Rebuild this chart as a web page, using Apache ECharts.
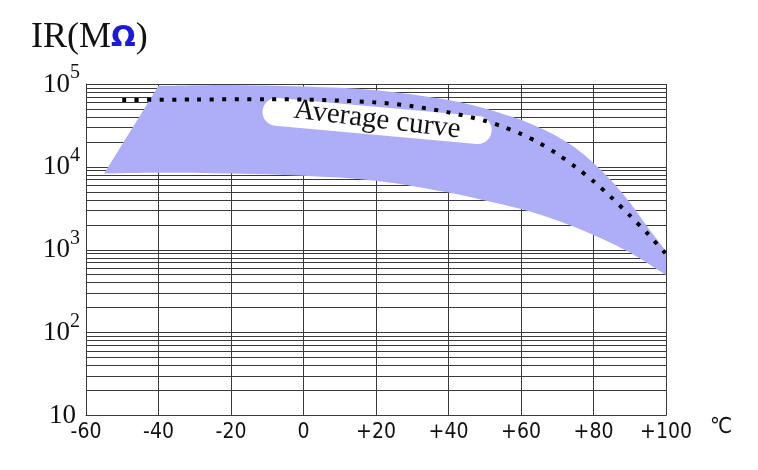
<!DOCTYPE html>
<html>
<head>
<meta charset="utf-8">
<script src="https://cdn.jsdelivr.net/npm/echarts@6/dist/echarts.min.js"></script>
<style>html,body{margin:0;padding:0;background:#fff}#chart{width:758px;height:470px}</style>
</head>
<body>
<div id="chart"></div>
<script>
// ---- data ----
const xTicks = [-60, -40, -20, 0, 20, 40, 60, 80, 100];
const xTickLabels = ['-60', '-40', '-20', '0', '+20', '+40', '+60', '+80', '+100'];
const yTicks = [10, 100, 1000, 10000, 100000];
const yTickExps = ['', '2', '3', '4', '5'];
const minorMultipliers = [2, 3, 4, 5, 6, 7, 8, 9];
// upper boundary of the IR band (temperature °C, MΩ)
const upperBand = [[-40, 95000], [-20, 97500], [0, 93000], [20, 84000], [40, 64000], [50, 50700],
  [55, 43600], [60, 37000], [65, 29900], [70, 23300], [75, 16900], [80, 11150], [85, 6760], [90, 3720],
  [95, 1860], [100, 968]];
// lower boundary of the IR band
const lowerBand = [[-55, 8300], [-40, 8500], [-20, 8300], [0, 7800], [20, 6800], [40, 4900], [50, 3930],
  [60, 3100], [70, 2260], [80, 1510], [90, 928], [100, 497]];
// average curve
const avgCurve = [[-50, 64000], [-30, 65000], [-10, 65500], [0, 65000], [10, 63000], [20, 60000], [30, 54000],
  [40, 45500], [50, 36000], [55, 30500], [60, 25000], [65, 19500], [70, 14300], [75, 10000], [80, 6700],
  [85, 4250], [90, 2600], [95, 1550], [100, 890]];
const labelText = 'Average curve';
const labelAnchor = [20.3, 35800];

// Catmull-Rom segments through pixel points -> SVG cubic commands
function crPath(pts) {
  let s = '';
  for (let i = 0; i < pts.length - 1; i++) {
    const p0 = pts[i - 1] || pts[i], p1 = pts[i], p2 = pts[i + 1], p3 = pts[i + 2] || pts[i + 1];
    const c1 = [p1[0] + (p2[0] - p0[0]) / 6, p1[1] + (p2[1] - p0[1]) / 6];
    const c2 = [p2[0] - (p3[0] - p1[0]) / 6, p2[1] - (p3[1] - p1[1]) / 6];
    s += ' C' + c1[0] + ',' + c1[1] + ' ' + c2[0] + ',' + c2[1] + ' ' + p2[0] + ',' + p2[1];
  }
  return s;
}

// ---- chart ----
const minorLines = [];
yTicks.slice(0, -1).forEach(d => minorMultipliers.forEach(m => minorLines.push({ yAxis: d * m })));

const gridColor = '#3a3a3a';
const chart = echarts.init(document.getElementById('chart'), null, { renderer: 'canvas' });
chart.setOption({
  animation: false,
  backgroundColor: '#fff',
  title: {
    text: '{a|IR(M}{b|Ω}{a|)}',
    left: 26, top: 14,
    textStyle: {
      fontWeight: 'normal',
      rich: {
        a: { fontFamily: 'Liberation Serif', fontWeight: 'normal', fontSize: 36, color: '#111', lineHeight: 38 },
        b: { fontFamily: 'DejaVu Sans', fontWeight: 'bold', fontSize: 29, color: '#1a1ad8', lineHeight: 38 }
      }
    }
  },
  grid: { left: 86, right: 92, top: 84, bottom: 54.5, containLabel: false },
  xAxis: {
    type: 'value', min: -60, max: 100, interval: 20,
    axisLine: { show: true, onZero: false, lineStyle: { color: gridColor, width: 1 } },
    axisTick: { show: false },
    splitLine: { show: true, lineStyle: { color: gridColor, width: 1 } },
    axisLabel: {
      margin: 7,
      formatter: v => xTickLabels[xTicks.indexOf(v)],
      fontFamily: "'Liberation Sans Narrow', 'DejaVu Sans Condensed', sans-serif",
      fontSize: 21, color: '#111'
    },
    name: '℃', nameLocation: 'end', nameGap: 44,
    nameTextStyle: { fontFamily: 'DejaVu Sans Condensed', fontSize: 22, color: '#111', verticalAlign: 'top', padding: [1, 0, 0, 0] }
  },
  yAxis: {
    type: 'log', logBase: 10, min: 10, max: 100000,
    axisLine: { show: true, onZero: false, lineStyle: { color: gridColor, width: 1 } },
    axisTick: { show: false },
    splitLine: { show: true, lineStyle: { color: gridColor, width: 1 } },
    axisLabel: {
      align: 'left', margin: 43,
      formatter: v => {
        const i = yTicks.indexOf(Math.round(v));
        if (i < 0) return '';
        return yTickExps[i] ? '{b|10}{s|' + yTickExps[i] + '}' : '{c|10}';
      },
      rich: {
        b: { fontFamily: 'Liberation Serif', fontSize: 27, lineHeight: 28, color: '#111', verticalAlign: 'bottom' },
        c: { fontFamily: 'Liberation Serif', fontSize: 27, lineHeight: 28, color: '#111', verticalAlign: 'bottom', padding: [0, 0, 0, 6] },
        s: { fontFamily: 'Liberation Serif', fontSize: 20, lineHeight: 20, color: '#111', verticalAlign: 'bottom', padding: [0, 0, 15, 0] }
      }
    }
  },
  series: [
    {
      type: 'line', data: [], silent: true, z: 1,
      markLine: {
        silent: true, symbol: ['none', 'none'], z: 1, animation: false,
        label: { show: false },
        lineStyle: { color: gridColor, width: 1, type: 'solid' },
        emphasis: { disabled: true },
        data: minorLines
      }
    },
    {
      type: 'custom', coordinateSystem: 'cartesian2d', silent: true, z: 3,
      data: [[0, 1000]],
      renderItem: (params, api) => {
        const U = upperBand.map(p => api.coord(p));
        const L = lowerBand.slice().reverse().map(p => api.coord(p));
        const start = L[L.length - 1];
        const d = 'M' + start[0] + ',' + start[1] + ' L' + U[0][0] + ',' + U[0][1] + crPath(U) +
          ' L' + L[0][0] + ',' + L[0][1] + crPath(L) + ' Z';
        return { type: 'path', shape: { pathData: d }, style: { fill: '#aeaef8' } };
      }
    },
    {
      type: 'line', data: avgCurve, smooth: 0.3, showSymbol: false, silent: true, z: 10,
      lineStyle: { color: '#000', width: 4, type: [4, 8.5], cap: 'butt' }
    }
  ]
});

const c = chart.convertToPixel({ gridIndex: 0 }, labelAnchor);
chart.setOption({
  graphic: [{
    type: 'group', x: c[0], y: c[1], rotation: -0.09, z: 6, silent: true,
    children: [
      { type: 'rect', z: 6, shape: { x: -115, y: -14, width: 230, height: 28, r: 14 }, style: { fill: '#fff' } },
      { type: 'text', z: 7, x: 0, y: -1, rotation: -0.03,
        style: { text: labelText, fontFamily: 'Liberation Serif', fontSize: 29, fill: '#111', align: 'center', verticalAlign: 'middle', textAlign: 'center', textVerticalAlign: 'middle' } }
    ]
  }]
});
</script>
</body>
</html>
